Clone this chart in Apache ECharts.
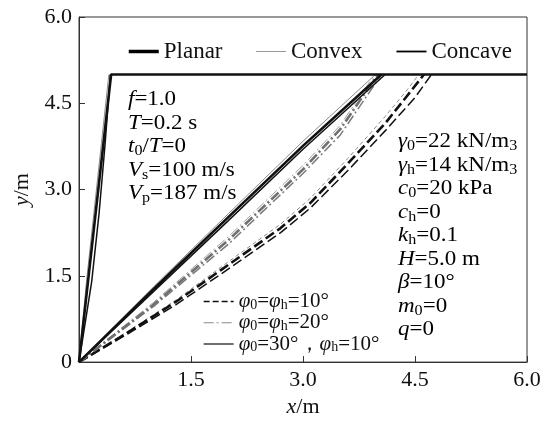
<!DOCTYPE html>
<html>
<head>
<meta charset="utf-8">
<script src="https://cdn.jsdelivr.net/npm/echarts@6/dist/echarts.min.js"></script>
<style>
  html, body { margin: 0; padding: 0; background: #fff; }
  #chart { width: 544px; height: 423px; }
</style>
</head>
<body>
<div id="chart"></div>
<script>
// Axis ticks
const xTicks = [0, 1.5, 3.0, 4.5, 6.0];
const yTicks = [0, 1.5, 3.0, 4.5, 6.0];

// Wall back traces (near vertical) and the backfill surface at y = 5 m
const wallPlanar = [[0, 0], [0.43, 5], [6, 5]];
const wallConvex = [[0, 0], [0.10, 1.4], [0.20, 2.6], [0.30, 3.8], [0.40, 5]];
const wallConcave = [[0, 0], [0.17, 1.4], [0.27, 2.6], [0.35, 3.8], [0.42, 5]];

// Slip surfaces, φ0 = 30°, φh = 10°
const phi30Planar = [[0, 0], [1, 1.27], [2, 2.52], [3, 3.76], [4.05, 5]];
const phi30Convex = [[0, 0], [1, 1.31], [2, 2.58], [3, 3.84], [3.97, 5]];
const phi30Concave = [[0, 0], [1, 1.23], [2, 2.46], [3, 3.70], [4.10, 5]];

// Slip surfaces, φ0 = φh = 20°
const phi20Planar = [[0, 0], [1, 1.00], [2, 2.12], [3, 3.35], [3.5, 4.05], [4.00, 5]];
const phi20Convex = [[0, 0], [1, 1.04], [2, 2.18], [3, 3.42], [3.5, 4.12], [3.96, 5]];
const phi20Concave = [[0, 0], [1, 0.97], [2, 2.05], [3, 3.28], [3.5, 3.95], [4.05, 5]];

// Slip surfaces, φ0 = φh = 10°
const phi10Planar = [[0, 0], [0.6, 0.47], [1.3, 1.05], [1.9, 1.60], [2.7, 2.33], [3.1, 2.77], [3.6, 3.45], [4.1, 4.15], [4.45, 4.72], [4.62, 5]];
const phi10Convex = [[0, 0], [0.6, 0.49], [1.3, 1.08], [1.9, 1.65], [2.7, 2.40], [3.1, 2.85], [3.6, 3.54], [4.1, 4.27], [4.4, 4.74], [4.55, 5]];
const phi10Concave = [[0, 0], [0.6, 0.45], [1.3, 1.00], [1.9, 1.53], [2.7, 2.25], [3.1, 2.68], [3.6, 3.33], [4.1, 4.02], [4.5, 4.60], [4.72, 5]];

// Legend labels
const shapeNames = ['Planar', 'Convex', 'Concave'];
const phiNames = ['phi10', 'phi20', 'phi30'];
const phiLabels = {
  phi10: '{i|φ}{s|0}{n|=}{i|φ}{s|h}{n|=10°}',
  phi20: '{i|φ}{s|0}{n|=}{i|φ}{s|h}{n|=20°}',
  phi30: '{i|φ}{s|0}{n|=30°，}{i|φ}{s|h}{n|=10°}'
};

// Parameter annotations
const leftNotes = [
  '{i|f}{n|=1.0}',
  '{i|T}{n|=0.2 s}',
  '{i|t}{s|0}{n|/}{i|T}{n|=0}',
  '{i|V}{s|s}{n|=100 m/s}',
  '{i|V}{s|p}{n|=187 m/s}'
];
const rightNotes = [
  '{i|γ}{s|0}{n|=22 kN/m}{m|3}',
  '{i|γ}{s|h}{n|=14 kN/m}{m|3}',
  '{i|c}{s|0}{n|=20 kPa}',
  '{i|c}{s|h}{n|=0}',
  '{i|k}{s|h}{n|=0.1}',
  '{i|H}{n|=5.0 m}',
  '{i|β}{n|=10°}',
  '{i|m}{s|0}{n|=0}',
  '{i|q}{n|=0}'
];

const FONT = 'Liberation Serif, DejaVu Serif, serif';
const FS = 22;
const LH = 23.5;

function richSet(lh, fs) {
  const size = fs || FS;
  return {
    n: { fontFamily: FONT, fontSize: size, color: '#111', lineHeight: lh },
    i: { fontFamily: FONT, fontSize: size, fontStyle: 'italic', color: '#111', lineHeight: lh },
    s: { fontFamily: FONT, fontSize: Math.round(size * 0.68), color: '#111', lineHeight: 11, verticalAlign: 'bottom' },
    m: { fontFamily: FONT, fontSize: Math.round(size * 0.72), color: '#111', lineHeight: 16, verticalAlign: 'bottom' }
  };
}

const BLACK = '#111';
const GREY = '#8a8a8a';
const DASH = [10, 4];
const DASHDOT = [10, 3, 2, 3];

function line(name, data, color, width, type, z) {
  return {
    name: name,
    type: 'line',
    data: data,
    symbol: 'none',
    silent: true,
    z: z || 2,
    lineStyle: { color: color, width: width, type: type || 'solid' },
    itemStyle: { color: color }
  };
}

const series = [
  // wall back and surface
  line('wall-convex', wallConvex, GREY, 1),
  line('wall-concave', wallConcave, BLACK, 1.5),
  line('wall-planar', wallPlanar, BLACK, 2.6, 'solid', 3),
  // φ0 = φh = 10°
  line('p10-convex', phi10Convex, GREY, 1, [4, 3]),
  line('p10-concave', phi10Concave, BLACK, 1.5, DASH),
  line('p10-planar', phi10Planar, BLACK, 2.6, DASH),
  // φ0 = φh = 20°
  line('p20-convex', phi20Convex, '#a0a0a0', 1, DASHDOT),
  line('p20-concave', phi20Concave, '#7a7a7a', 1.5, DASHDOT),
  line('p20-planar', phi20Planar, '#707070', 2.6, DASHDOT),
  // φ0 = 30°, φh = 10°
  line('p30-convex', phi30Convex, GREY, 1),
  line('p30-concave', phi30Concave, BLACK, 1.5),
  line('p30-planar', phi30Planar, BLACK, 2.6),
  // legend entries
  line('Planar', [], '#000', 3.5),
  line('Convex', [], '#999', 1),
  line('Concave', [], '#000', 1.8),
  line('phi10', [], BLACK, 1.3, [6, 3]),
  line('phi20', [], '#888', 1, DASHDOT),
  line('phi30', [], BLACK, 1.2)
];

// legend icons show only the line sample
const hiddenSymbol = { color: 'rgba(0,0,0,0)', borderWidth: 0, opacity: 0 };

const chart = echarts.init(document.getElementById('chart'), null, { renderer: 'canvas' });

chart.setOption({
  backgroundColor: '#fff',
  animation: false,
  grid: {
    left: 79, right: 17, top: 17, bottom: 54,
    show: true, borderColor: '#333', borderWidth: 1, backgroundColor: 'transparent'
  },
  xAxis: {
    type: 'value',
    min: xTicks[0], max: xTicks[xTicks.length - 1], interval: 1.5,
    name: '{i|x}{n|/m}',
    nameLocation: 'middle',
    nameGap: 29,
    nameTextStyle: { rich: richSet(24) },
    axisLine: { lineStyle: { color: '#333', width: 1 } },
    axisTick: { inside: true, length: 6, lineStyle: { color: '#333' } },
    axisLabel: {
      margin: 7, color: '#111', fontFamily: FONT, fontSize: FS,
      formatter: v => (v === 0 ? '' : v.toFixed(1))
    },
    splitLine: { show: false }
  },
  yAxis: {
    type: 'value',
    min: yTicks[0], max: yTicks[yTicks.length - 1], interval: 1.5,
    name: '{i|y}{n|/m}',
    nameLocation: 'middle',
    nameGap: 45,
    nameRotate: 90,
    nameTextStyle: { rich: richSet(24) },
    axisLine: { lineStyle: { color: '#333', width: 1 } },
    axisTick: { inside: true, length: 6, lineStyle: { color: '#333' } },
    axisLabel: {
      margin: 7, color: '#111', fontFamily: FONT, fontSize: FS,
      formatter: v => (v === 0 ? '0' : v.toFixed(1))
    },
    splitLine: { show: false }
  },
  legend: [
    {
      data: [
        { name: 'Planar', lineStyle: { width: 3.5 }, itemStyle: hiddenSymbol },
        { name: 'Convex', lineStyle: { width: 1 }, itemStyle: hiddenSymbol },
        { name: 'Concave', lineStyle: { width: 1.8 }, itemStyle: hiddenSymbol }
      ],
      left: 122, top: 35,
      itemWidth: 30, itemHeight: 14, itemGap: 33,
      selectedMode: false,
      textStyle: { fontFamily: FONT, fontSize: 23, color: '#111' }
    },
    {
      data: phiNames.map((n, k) => ({
        name: n, lineStyle: { width: [1.3, 1, 1.2][k] }, itemStyle: hiddenSymbol
      })),
      orient: 'vertical',
      left: 198, top: 286,
      itemWidth: 30, itemHeight: 14, itemGap: 0,
      selectedMode: false,
      formatter: n => phiLabels[n],
      textStyle: { rich: richSet(21.5, 21) }
    }
  ],
  graphic: [
    {
      type: 'text', x: 128, y: 88, scaleX: 1.15, silent: true,
      style: { text: leftNotes.join('\n'), rich: richSet(LH, 20) }
    },
    {
      type: 'text', x: 398, y: 130, scaleX: 1.15, silent: true,
      style: { text: rightNotes.join('\n'), rich: richSet(LH, 20) }
    }
  ],
  series: series
});
</script>
</body>
</html>
